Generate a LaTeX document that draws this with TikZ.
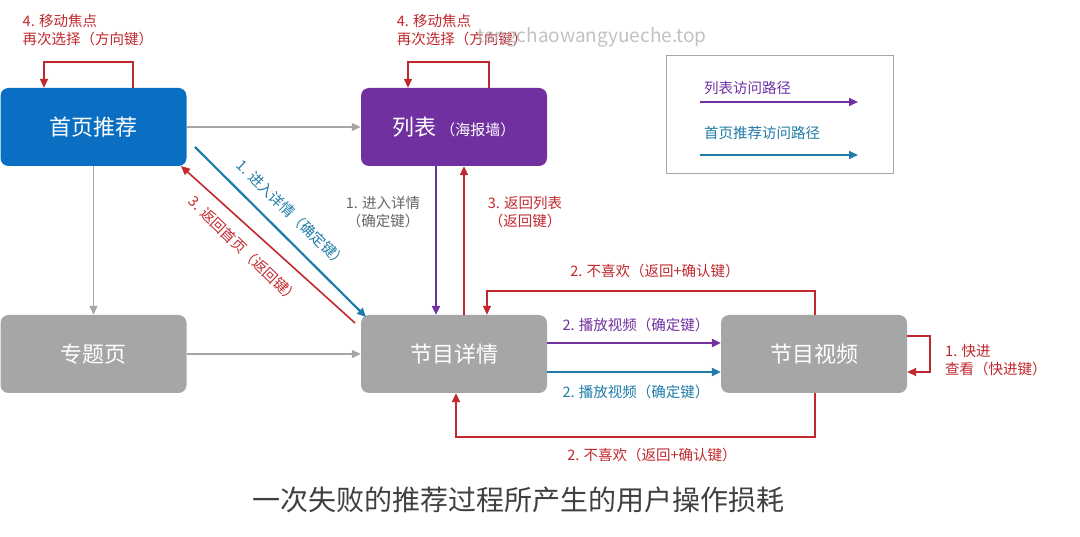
\documentclass[tikz,border=0pt]{standalone}
\usepackage{fontspec}
\setmainfont{Noto Sans CJK SC}
\usetikzlibrary{arrows.meta}
\definecolor{cblue}{HTML}{0A6FC2}
\definecolor{cpurp}{HTML}{7030A0}
\definecolor{cgray}{HTML}{A6A6A6}
\definecolor{cred}{HTML}{C0282D}
\definecolor{cteal}{HTML}{1F7BA8}
\tikzset{
 box/.style={rounded corners=8pt,minimum width=186pt,minimum height=78pt,text=white,font=\fontsize{22}{26}\selectfont,inner sep=0pt},
 arr/.style={-{Triangle[length=9pt,width=8pt]},line width=1.6pt},
 lbl/.style={font=\fontsize{14.5}{18}\selectfont,align=center,inner sep=1pt}
}
\begin{document}
\begin{tikzpicture}[x=1pt,y=-1pt]
\useasboundingbox (0,0) rectangle (1080,537);
\node[box,fill=cblue] (home) at (93.5,127) {首页推荐};
\node[box,fill=cpurp] (list) at (454,127) {列表\,{\fontsize{15}{18}\selectfont（海报墙）}};
\node[box,fill=cgray] (topic) at (93.5,354) {专题页};
\node[box,fill=cgray] (detail) at (454,354) {节目详情};
\node[box,fill=cgray] (video) at (814,354) {节目视频};
\node[draw=cgray,line width=0.8pt,minimum width=227pt,minimum height=118pt] (legend) at (779.5,114) {};
\node[lbl,text=cpurp,anchor=west] (l1) at (703,88) {列表访问路径};
\node[lbl,text=cteal,anchor=west] (l2) at (703,133) {首页推荐访问路径};
\coordinate (la) at (700,102); \coordinate (lb) at (858,102);
\coordinate (lc) at (700,155); \coordinate (ld) at (858,155);
\draw[arr,cpurp] (la) -- (lb);
\draw[arr,cteal] (lc) -- (ld);
\draw[arr,cgray,line width=1.3pt] (home.east) -- (list.west);
\draw[arr,cgray,line width=1.3pt] (home.south) -- (topic.north);
\draw[arr,cgray,line width=1.3pt] (topic.east) -- (detail.west);
\coordinate (d1) at (195,147); \coordinate (d2) at (366,317);
\coordinate (d3) at (355,323); \coordinate (d4) at (181,166);
\draw[arr,cteal,line width=2.2pt] (d1) -- (d2);
\draw[arr,cred] (d3) -- (d4);
\node[lbl,text=cteal,rotate=-44] (t1) at (292,214) {1. 进入详情（确定键）};
\node[lbl,text=cred,rotate=-44] (t2) at (244,250) {3. 返回首页（返回键）};
\draw[arr,cpurp,line width=2.2pt] (list.south-|436,0) -- (detail.north-|436,0);
\draw[arr,cred] (detail.north-|464,0) -- (list.south-|464,0);
\node[lbl,text=gray!80!black] (t3) at (383,212) {1. 进入详情\\（确定键）};
\node[lbl,text=cred] (t4) at (525,212) {3. 返回列表\\（返回键）};
\draw[arr,cred] (home.north-|133,0) |- (44,62) -- (home.north-|44,0);
\node[lbl,text=cred,align=left] (t5) at (88,30) {4. 移动焦点\\再次选择（方向键）};
\draw[arr,cred] (list.north-|489,0) |- (408,62) -- (list.north-|408,0);
\node[lbl,text=cred,align=left] (t6) at (462,30) {4. 移动焦点\\再次选择（方向键）};
\draw[arr,cred] (video.north-|815,0) |- (487,291) -- (detail.north-|487,0);
\node[lbl,text=cred] (t7) at (655,271) {2. 不喜欢（返回+确认键）};
\draw[arr,cpurp,line width=2.2pt] (detail.east|-0,343) -- (video.west|-0,343);
\node[lbl,text=cpurp] (t8) at (636,325) {2. 播放视频（确定键）};
\draw[arr,cteal,line width=2.2pt] (detail.east|-0,372) -- (video.west|-0,372);
\node[lbl,text=cteal] (t9) at (636,392) {2. 播放视频（确定键）};
\draw[arr,cred] (video.south-|815,0) |- (456,437) -- (detail.south-|456,0);
\node[lbl,text=cred] (t10) at (652,455) {2. 不喜欢（返回+确认键）};
\draw[arr,cred] (video.east|-0,336) -| (930,372) -- (video.east|-0,372);
\node[lbl,text=cred,align=left,anchor=west] (t11) at (944,360) {1. 快进\\查看（快进键）};
\node[font=\fontsize{28}{32}\selectfont,text=black!75] (title) at (518,500) {一次失败的推荐过程所产生的用户操作损耗};
\node[font=\fontsize{19}{22}\selectfont,text=black!30,opacity=0.8] (wm) at (592,37) {tangchaowangyueche.top};
\end{tikzpicture}
\end{document}
